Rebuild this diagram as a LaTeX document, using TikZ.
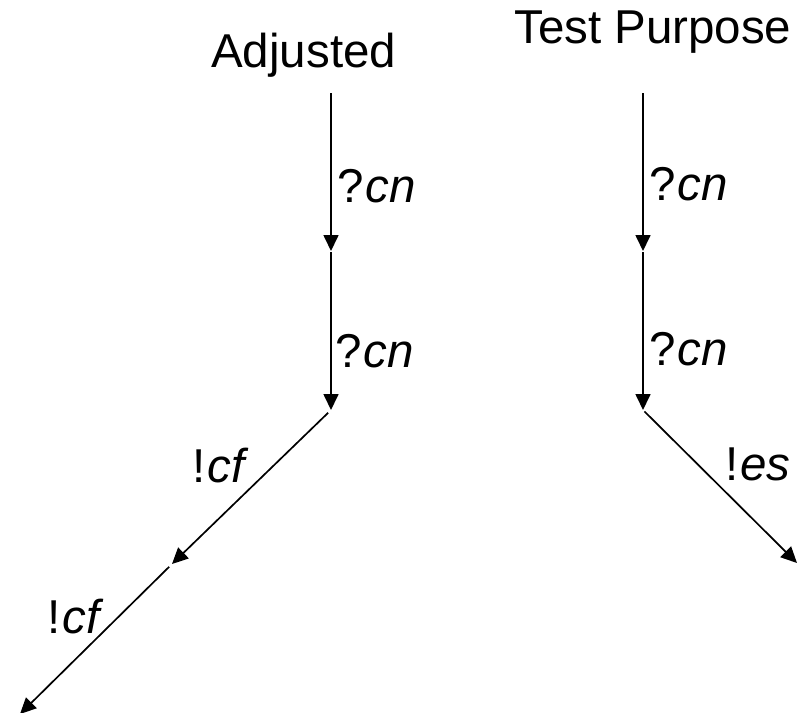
\documentclass[tikz,border=0pt]{standalone}
\usepackage{fontspec}
\setmainfont{Liberation Sans}
\usetikzlibrary{arrows.meta}
\newcommand{\act}[2]{#1\kern2pt\textit{#2}}
\begin{document}
\begin{tikzpicture}[x=1pt,y=-1pt,
  txt/.style={inner sep=0pt,font=\fontsize{47.5}{56}\selectfont},
  trans/.style={line width=1.7pt,-{Triangle[length=16pt,width=15pt]}}]
\useasboundingbox (0,0) rectangle (808,712);
% states of the adjusted chain
\coordinate (a0) at (331,93);
\coordinate (a1) at (331,251);
\coordinate (a2) at (331,410);
\coordinate (a3) at (172,564);
\coordinate (a4) at (20,714);
% states of the test purpose
\coordinate (t0) at (643,93);
\coordinate (t1) at (643,251);
\coordinate (t2) at (643,410);
\coordinate (t3) at (797,563);
% titles
\node[txt,anchor=base west] (adj) at (211,67) {Adjusted};
\node[txt,anchor=base west] (tp) at (514,43) {Test Purpose};
% transitions
\draw[trans] (a0) -- (a1);
\draw[trans,shorten <=1pt] (a1) -- (a2);
\draw[trans,shorten <=4pt] (a2) -- (a3);
\draw[trans,shorten <=4pt] (a3) -- (a4);
\draw[trans] (t0) -- (t1);
\draw[trans,shorten <=1pt] (t1) -- (t2);
\draw[trans,shorten <=2pt] (t2) -- (t3);
% labels
\node[txt,anchor=base west] (la1) at (337,202) {\act{?}{cn}};
\node[txt,anchor=base west] (la2) at (335,367) {\act{?}{cn}};
\node[txt,anchor=base west] (la3) at (192,482) {\act{!}{cf}};
\node[txt,anchor=base west] (la4) at (47,633) {\act{!}{cf}};
\node[txt,anchor=base west] (lt1) at (649,200) {\act{?}{cn}};
\node[txt,anchor=base west] (lt2) at (649,365) {\act{?}{cn}};
\node[txt,anchor=base west] (lt3) at (725,480) {\act{!}{es}};
\end{tikzpicture}
\end{document}
